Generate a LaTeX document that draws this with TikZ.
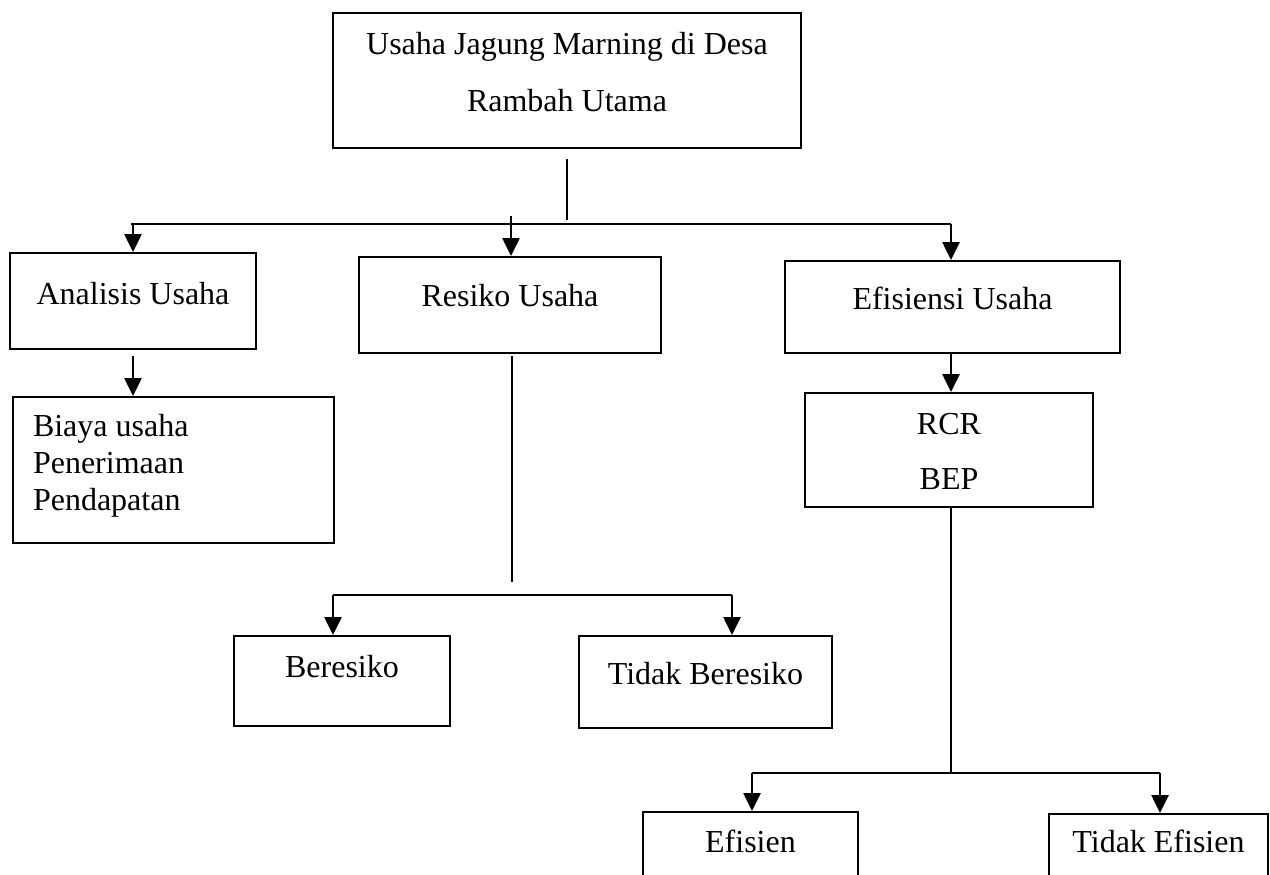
\documentclass[tikz,border=0pt]{standalone}
\usepackage{fontspec}
\setmainfont{Liberation Serif}
\usetikzlibrary{arrows.meta}

\begin{document}
\begin{tikzpicture}[x=0.5pt,y=-0.5pt,line width=1pt,
    kotak/.style={draw, rectangle, inner sep=0pt, anchor=north west,
        font=\fontsize{16pt}{28.5pt}\selectfont},
    panah/.style={line width=1.3pt,-{Triangle[length=9pt,width=8.5pt]}}]
    \useasboundingbox (0,0) rectangle (1270,874);
    \clip (0,0) rectangle (1270,874);
    %% judul
    \node[kotak, text width=234pt, align=flush center,
        text height=20.5pt, text depth=47pt] (usaha) at (332,12)
        {Usaha Jagung Marning di Desa\\Rambah Utama};
    %% tingkat kedua
    \node[kotak, minimum width=123pt, text height=25.5pt, text depth=22.5pt]
        (analisis) at (9,252) {Analisis Usaha};
    \node[kotak, minimum width=151pt, text height=24.5pt, text depth=23.5pt]
        (resiko) at (358,256) {Resiko Usaha};
    \node[kotak, minimum width=167.5pt, text height=24pt, text depth=22pt]
        (efisiensi) at (784,260) {Efisiensi Usaha};
    %% analisis
    \node[kotak, inner xsep=10pt, text width=140.5pt, align=flush left,
        font=\fontsize{16pt}{18.5pt}\selectfont,
        text height=19.5pt, text depth=53.5pt] (biaya) at (12,396)
        {Biaya usaha\\Penerimaan\\Pendapatan};
    %% resiko
    \node[kotak, minimum width=108pt, text height=20.5pt, text depth=24.5pt]
        (beresiko) at (233,635) {Beresiko};
    \node[kotak, minimum width=126.5pt, text height=24pt, text depth=22pt]
        (tdkberesiko) at (578,635) {Tidak Beresiko};
    %% efisiensi
    \node[kotak, text width=144pt, align=flush center,
        font=\fontsize{16pt}{27.5pt}\selectfont,
        text height=20.5pt, text depth=36.5pt] (rcr) at (804,392)
        {RCR\\BEP};
    \node[kotak, minimum width=107.5pt, text height=20pt, text depth=30pt]
        (efisien) at (642,811) {Efisien};
    \node[kotak, minimum width=109.5pt, text height=19pt, text depth=30pt]
        (tdkefisien) at (1048,813) {Tidak Efisien};

    %% garis dari judul
    \coordinate (a1) at (567,159);
    \coordinate (a2) at (567,220);
    \draw (a1) -- (a2);
    \coordinate (kiri) at (131,224);
    \coordinate (kanan) at (951,224);
    \draw (kiri) -- (kanan);
    \draw[panah] (analisis.north |- kiri) -- (analisis.north);
    \coordinate (r0) at (511,216);
    \draw[panah] (r0) -- (r0 |- resiko.north);
    \draw[panah] (kanan) -- (kanan |- efisiensi.north);
    %% analisis ke biaya
    \coordinate (b0) at (133,356);
    \draw[panah] (b0) -- (b0 |- biaya.north);
    %% cabang resiko
    \coordinate (c1) at (512,356);
    \coordinate (c2) at (512,582);
    \draw (c1) -- (c2);
    \coordinate (c3) at (333,595);
    \coordinate (c4) at (732,595);
    \draw (c3) -- (c4);
    \draw[panah] (c3) -- (c3 |- beresiko.north);
    \draw[panah] (c4) -- (c4 |- tdkberesiko.north);
    %% cabang efisiensi
    \draw[panah] (efisiensi.south -| kanan) -- (rcr.north -| kanan);
    \coordinate (d1) at (951,773);
    \draw (rcr.south -| d1) -- (d1);
    \coordinate (d2) at (752,773);
    \coordinate (d3) at (1160,773);
    \draw (d2) -- (d3);
    \draw[panah] (d2) -- (d2 |- efisien.north);
    \draw[panah] (d3) -- (d3 |- tdkefisien.north);
\end{tikzpicture}
\end{document}
